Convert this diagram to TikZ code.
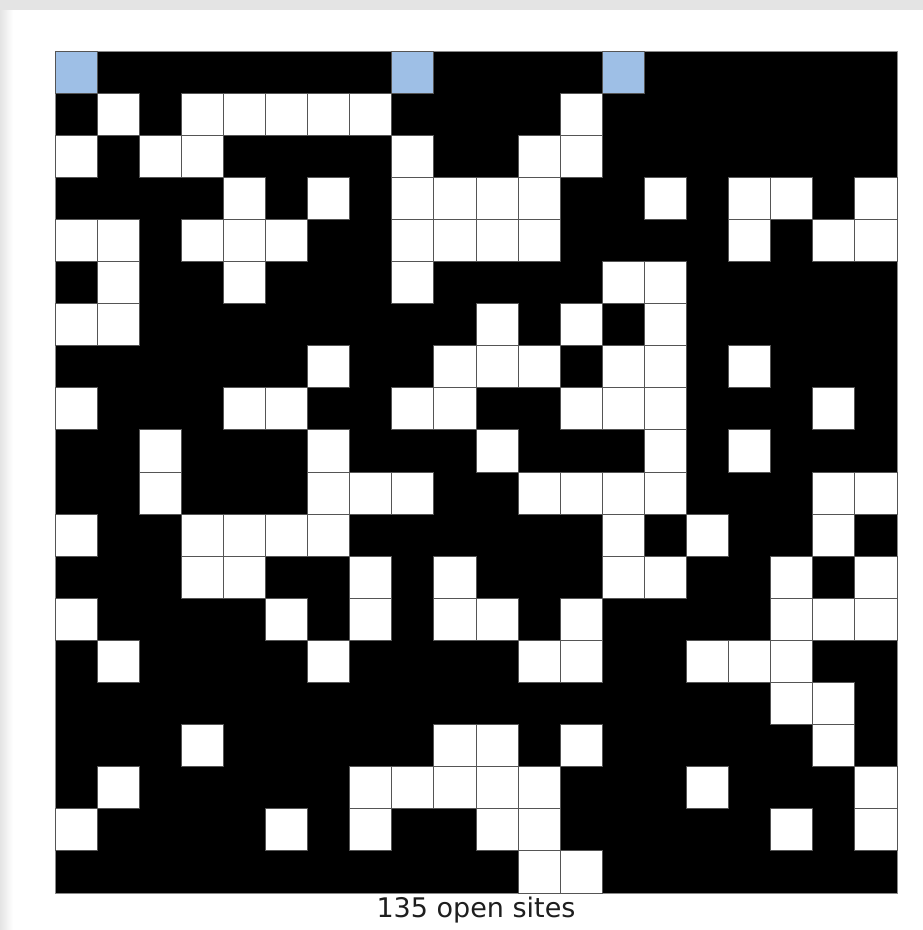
\documentclass[tikz,border=0pt]{standalone}
\usepackage{fontspec}
\setmainfont{DejaVu Sans}
\usepackage{tikz}
\usetikzlibrary{positioning}
\definecolor{sitegray}{RGB}{85,85,85}
\definecolor{fullblue}{RGB}{158,191,230}
\definecolor{framegray}{RGB}{228,228,228}
\definecolor{captiontext}{RGB}{30,30,30}

\begin{document}
\begin{tikzpicture}[
    x=1pt, y=-1pt,
    blockedgrid/.style={fill=black, draw=sitegray!70, line width=1pt},
    opensite/.style={fill=white, draw=sitegray, line width=1pt},
    fullsite/.style={fill=fullblue, draw=sitegray, line width=1pt},
    caption/.style={font=\fontsize{27}{30}\selectfont, text=captiontext, inner sep=0pt}
]
\useasboundingbox (0,0) rectangle (923,930);

% Window frame with its shadow
\fill[framegray] (0,0) rectangle (923,930);
\shade[left color=framegray, right color=white] (0,10) rectangle (13,930);
\fill[white] (13,10) rectangle (923,930);

% Blocked sites
\path[blockedgrid] (55,51) rectangle (897,893);

% Full sites on the top row
\foreach \c in {0,8,13}
    \path[fullsite] ({55+42.1*\c},51) rectangle ++(42.1,42.1);

% Open sites, row by row
\foreach \r/\cols in {
    1/{1,3,4,5,6,7,12},
    2/{0,2,3,8,11,12},
    3/{4,6,8,9,10,11,14,16,17,19},
    4/{0,1,3,4,5,8,9,10,11,16,18,19},
    5/{1,4,8,13,14},
    6/{0,1,10,12,14},
    7/{6,9,10,11,13,14,16},
    8/{0,4,5,8,9,12,13,14,18},
    9/{2,6,10,14,16},
    10/{2,6,7,8,11,12,13,14,18,19},
    11/{0,3,4,5,6,13,15,18},
    12/{3,4,7,9,13,14,17,19},
    13/{0,5,7,9,10,12,17,18,19},
    14/{1,6,11,12,15,16,17},
    15/{17,18},
    16/{3,9,10,12,18},
    17/{1,7,8,9,10,11,15,19},
    18/{0,5,7,10,11,17,19},
    19/{11,12}}
    \foreach \c in \cols
        \path[opensite] ({55+42.1*\c},{51+42.1*\r}) rectangle ++(42.1,42.1);

\node[caption] (count) at (476,910) {135 open sites};

\end{tikzpicture}
\end{document}
